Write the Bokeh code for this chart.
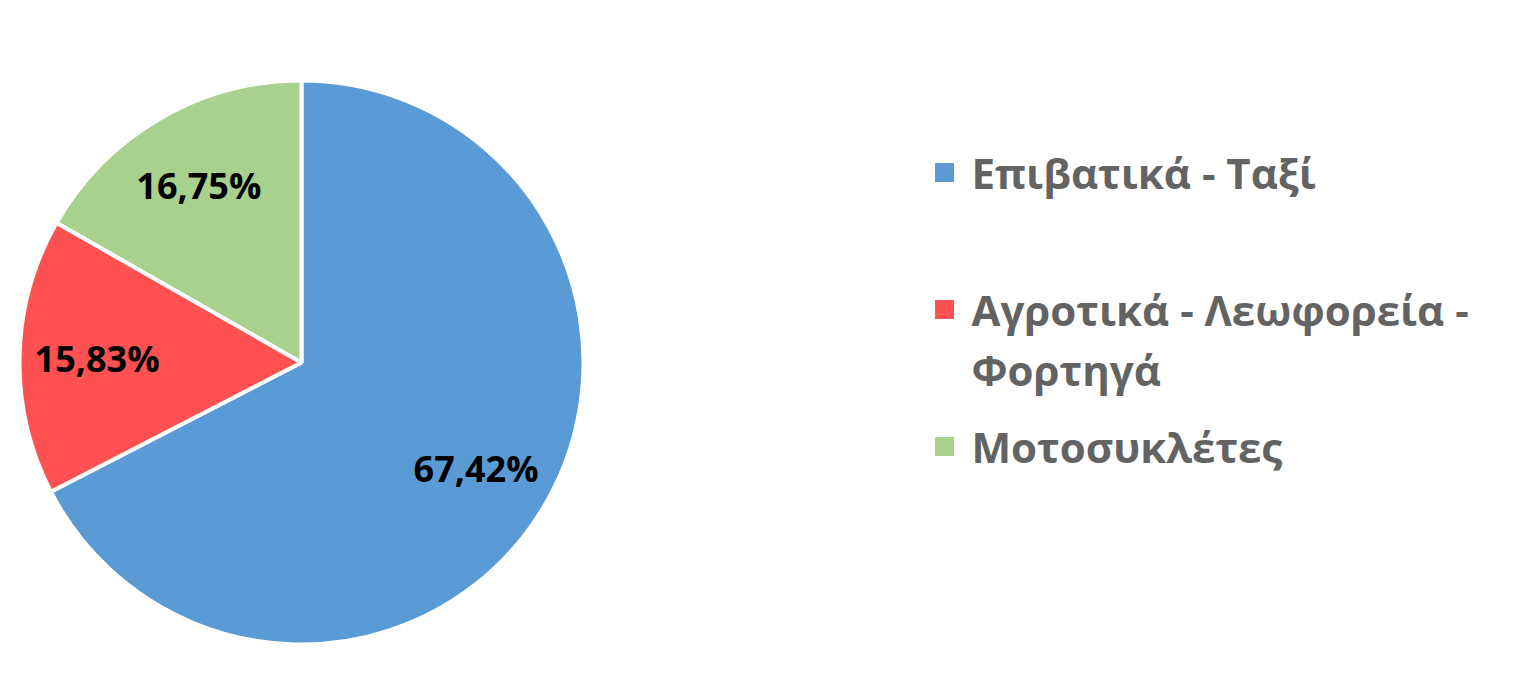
import math
from bokeh.plotting import figure
from bokeh.models import Range1d, ColumnDataSource
from bokeh.core.properties import value
from bokeh.embed import file_html
from bokeh.resources import INLINE

categories = ["Επιβατικά - Ταξί", "Αγροτικά - Λεωφορεία - Φορτηγά", "Μοτοσυκλέτες"]
legend_lines = [["Επιβατικά - Ταξί"], ["Αγροτικά - Λεωφορεία -", "Φορτηγά"], ["Μοτοσυκλέτες"]]
shares = [67.42, 15.83, 16.75]
colors = ["#5B9BD5", "#FF5151", "#A9D18E"]

W, H = 1510, 658
p = figure(width=W, height=H, x_range=Range1d(0, W), y_range=Range1d(674 - H, 674),
           output_backend="svg", toolbar_location=None, min_border=0)
p.axis.visible = False
p.grid.visible = False
p.outline_line_color = None
p.background_fill_color = "white"

# pie geometry (image pixels -> data: y = 674 - image_y)
cx, cy, R = 301, 674 - 362, 282
total = sum(shares)
starts, ends, lx, ly, labels = [], [], [], [], []
acc = 0.0
for s in shares:
    a0 = math.pi / 2 - 2 * math.pi * acc / total
    a1 = math.pi / 2 - 2 * math.pi * (acc + s) / total
    starts.append(a1)
    ends.append(a0)
    mid = (a0 + a1) / 2
    lx.append(cx + 0.725 * R * math.cos(mid))
    ly.append(cy + 0.725 * R * math.sin(mid))
    labels.append(f"{s:.2f}".replace(".", ",") + "%")
    acc += s

src = ColumnDataSource(dict(start=starts, end=ends, color=colors))
p.wedge(x=cx, y=cy, radius=R, start_angle="start", end_angle="end", direction="anticlock",
        fill_color="color", line_color="white", line_width=4, source=src)

p.text(x=lx, y=ly, text=labels, text_font=value("Open Sans"), text_font_style="bold",
       text_font_size="36px", text_color="black", text_align="center", text_baseline="middle")

# legend
lg_x, lg_y0 = 944, 674 - 172
item_step, line_gap = 137, 60
sq_x, sq_y, tx, ty, tt = [], [], [], [], []
y = lg_y0
for lines in legend_lines:
    sq_x.append(lg_x)
    sq_y.append(y)
    for i, ln in enumerate(lines):
        tx.append(lg_x + 27)
        ty.append(y - i * line_gap)
        tt.append(ln)
    y -= item_step
p.scatter(x=sq_x, y=sq_y, marker="square", size=19, fill_color=colors, line_color=None)
p.text(x=tx, y=ty, text=tt, text_font=value("Open Sans"), text_font_style="bold",
       text_font_size="42px", text_color="#636363", text_align="left", text_baseline="middle")

open("out.html", "w").write(file_html(p, INLINE))
